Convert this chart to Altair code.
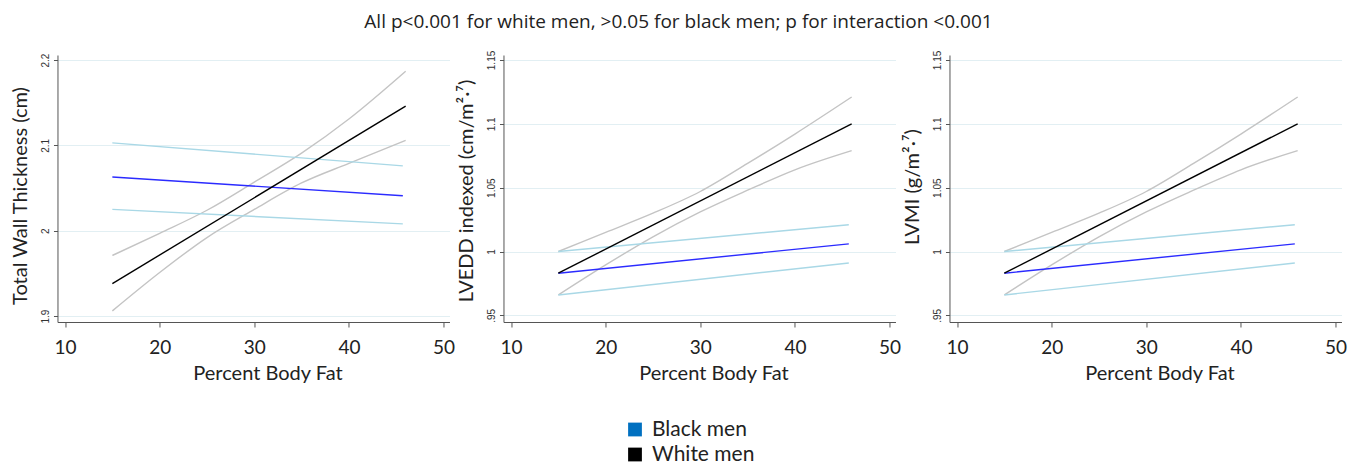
import altair as alt
import pandas as pd

# ---------------- data ----------------
fit_x_white = [15, 46]
fit_x_black = [15, 45.7]
ci_x_white = [15, 20, 25, 30, 35, 40, 46]
ci_x_black = [15, 45.7]

# Panel 1: Total Wall Thickness (cm)
twt_white_fit = [1.938, 2.146]
twt_white_lo = [1.906, 1.951, 1.992, 2.025, 2.056, 2.079, 2.106]
twt_white_hi = [1.971, 1.997, 2.024, 2.057, 2.091, 2.131, 2.187]
twt_black_fit = [2.063, 2.041]
twt_black_lo = [2.025, 2.008]
twt_black_hi = [2.103, 2.076]

# Panel 2: LVEDD indexed
lvedd_white_fit = [0.983, 1.100]
lvedd_white_lo = [0.966, 0.9895, 1.0115, 1.031, 1.048, 1.064, 1.079]
lvedd_white_hi = [1.000, 1.015, 1.030, 1.047, 1.069, 1.092, 1.121]
lvedd_black_fit = [0.983, 1.006]
lvedd_black_lo = [0.966, 0.991]
lvedd_black_hi = [1.000, 1.021]

# Panel 3: LVMI
lvmi_white_fit = [0.983, 1.100]
lvmi_white_lo = [0.966, 0.9895, 1.0115, 1.031, 1.048, 1.064, 1.079]
lvmi_white_hi = [1.000, 1.015, 1.030, 1.047, 1.069, 1.092, 1.121]
lvmi_black_fit = [0.983, 1.006]
lvmi_black_lo = [0.966, 0.991]
lvmi_black_hi = [1.000, 1.021]

x_ticks = [10, 20, 30, 40, 50]
twt_ticks = [1.9, 2.0, 2.1, 2.2]
twt_tick_labels = ["1.9", "2", "2.1", "2.2"]
lv_ticks = [0.95, 1.0, 1.05, 1.1, 1.15]
lv_tick_labels = [".95", "1", "1.05", "1.1", "1.15"]

legend_labels = ["Black men", "White men"]
legend_colors = ["#0070C0", "#000000"]

title_text = "All p<0.001 for white men, >0.05 for black men; p for interaction <0.001"
x_title = "Percent Body Fat"
y_titles = ["Total Wall Thickness (cm)", "LVEDD indexed  (cm/m\u00b2\u00b7\u2077)", "LVMI (g/m\u00b2\u00b7\u2077)"]

series_order = ["white_lo", "white_hi", "black_lo", "black_hi", "black_fit", "white_fit"]
series_colors = ["#c4c4c4", "#c4c4c4", "#a9d8e6", "#a9d8e6", "#2b2bff", "#000000"]
series_widths = [1.4, 1.4, 1.4, 1.4, 1.8, 1.8]

W, H = 392, 267
FONT = "Lato"


def frame(wf, wl, wh, bf, bl, bh):
    rows = []
    for xs, ys, s in [
        (ci_x_white, wl, "white_lo"), (ci_x_white, wh, "white_hi"),
        (ci_x_black, bl, "black_lo"), (ci_x_black, bh, "black_hi"),
        (fit_x_black, bf, "black_fit"), (fit_x_white, wf, "white_fit"),
    ]:
        for x, y in zip(xs, ys):
            rows.append({"x": x, "y": y, "series": s})
    return pd.DataFrame(rows)


def label_expr(ticks, labels):
    keys = [int(round(t * 100)) for t in ticks]
    return "%s[indexof(%s, round(datum.value*100))]" % (labels, keys)


def panel(df, ydomain, ticks, labels, ytitle, y_title_y):
    base = alt.Chart(df).mark_line(strokeCap="butt", interpolate="monotone").encode(
        x=alt.X("x:Q",
                scale=alt.Scale(domain=[9.2, 50.63], nice=False, zero=False),
                axis=alt.Axis(values=x_ticks, title=x_title, grid=False,
                              labelFont=FONT, labelFontSize=19, labelColor="#222",
                              labelPadding=11, tickSize=5, tickColor="#555",
                              domainColor="#555", titleFont=FONT, titleFontSize=20,
                              titleFontWeight="normal", titleColor="#222",
                              titleX=W / 2 + 14, titleY=51, titleBaseline="middle")),
        y=alt.Y("y:Q",
                scale=alt.Scale(domain=ydomain, nice=False, zero=False),
                axis=alt.Axis(values=ticks, labelExpr=label_expr(ticks, labels),
                              title=ytitle, grid=True, gridColor="#e2eff3",
                              gridWidth=1.2,
                              labelFont="Liberation Sans", labelFontSize=10,
                              labelColor="#333", labelAngle=270, labelAlign="center",
                              labelBaseline="bottom", labelPadding=3, tickSize=4,
                              tickColor="#555", domainColor="#555",
                              titleFont=FONT, titleFontSize=20, titleFontWeight="normal",
                              titleColor="#222", titleAngle=270, titleX=-37,
                              titleY=y_title_y, titleAlign="center",
                              titleBaseline="middle")),
        stroke=alt.Stroke("series:N", scale=alt.Scale(domain=series_order, range=series_colors),
                          legend=None),
        strokeWidth=alt.StrokeWidth("series:N",
                                    scale=alt.Scale(domain=series_order, range=series_widths),
                                    legend=None),
        detail="series:N",
        order=alt.Order("x:Q"),
    )
    return base.properties(width=W, height=H)


p1 = panel(frame(twt_white_fit, twt_white_lo, twt_white_hi, twt_black_fit, twt_black_lo, twt_black_hi),
           [1.893, 2.206], twt_ticks, twt_tick_labels, y_titles[0], H / 2 + 7)
p2 = panel(frame(lvedd_white_fit, lvedd_white_lo, lvedd_white_hi, lvedd_black_fit, lvedd_black_lo, lvedd_black_hi),
           [0.9448, 1.1539], lv_ticks, lv_tick_labels, y_titles[1], H / 2 + 2)
p3 = panel(frame(lvmi_white_fit, lvmi_white_lo, lvmi_white_hi, lvmi_black_fit, lvmi_black_lo, lvmi_black_hi),
           [0.9448, 1.1539], lv_ticks, lv_tick_labels, y_titles[2], H / 2 - 2)

row = alt.hconcat(p1, p2, p3, spacing=54, bounds="flush").resolve_scale(
    x="independent", y="independent", stroke="independent", strokeWidth="independent")

leg_df = pd.DataFrame({"label": legend_labels, "color": legend_colors})
leg_y = alt.Y("label:N", sort=legend_labels, axis=None,
              scale=alt.Scale(paddingInner=0, paddingOuter=0.5))
leg_sq = alt.Chart(leg_df).mark_square(size=190, opacity=1).encode(
    x=alt.value(7), y=leg_y, color=alt.Color("color:N", scale=None))
leg_tx = alt.Chart(leg_df).mark_text(align="left", baseline="middle", font=FONT,
                                     fontSize=21, color="#222").encode(
    x=alt.value(24), y=leg_y, text="label:N")
legend = alt.layer(leg_sq, leg_tx).properties(width=148, height=50)

chart = alt.vconcat(row, legend, spacing=34, center=True).properties(
    title=alt.TitleParams(title_text, font="Open Sans", fontSize=19, fontWeight="normal",
                          color="#222", anchor="middle", offset=18),
    padding={"left": 2, "right": 2, "top": 5, "bottom": 0},
).configure_view(stroke=None).configure_concat(spacing=54)

chart.save("out.html", embed_options={"renderer": "svg", "actions": False})
